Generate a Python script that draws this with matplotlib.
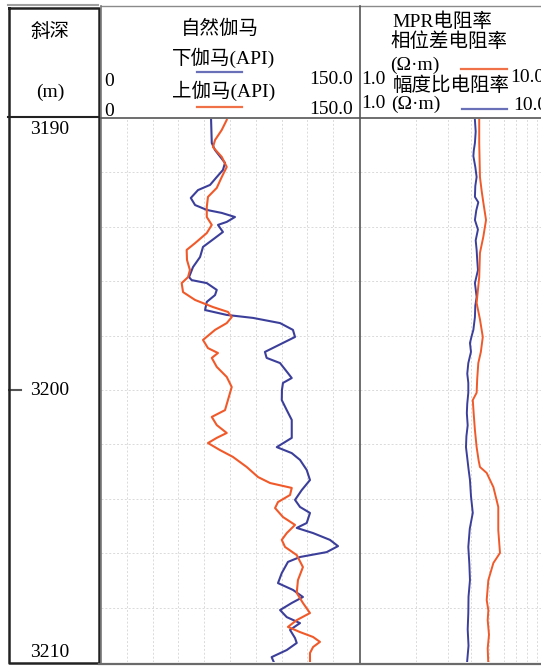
import matplotlib
matplotlib.use('Agg')
import matplotlib.pyplot as plt
import numpy as np

plt.rcParams['font.family'] = ['Liberation Serif', 'Noto Sans CJK SC', 'DejaVu Sans']

# depth range and labels
depth_top, depth_bot = 3190.0, 3210.0
depth_labels = [3190, 3200, 3210]

# 下伽马 (API) - blue
gr_low_depth = [3190.07, 3190.92, 3191.18, 3191.65, 3191.91, 3192.17, 3192.46, 3192.65, 3192.94,
                3193.20, 3193.38, 3193.49, 3193.64, 3193.82, 3193.93, 3194.19, 3194.41, 3194.74,
                3195.11, 3195.48, 3195.85, 3195.96, 3196.07, 3196.32, 3196.51, 3196.76, 3197.06,
                3197.24, 3197.35, 3197.54, 3197.79, 3198.05, 3198.27, 3198.60, 3198.82, 3199.01,
                3199.38, 3199.56, 3199.74, 3200.00, 3200.37, 3200.74, 3201.10, 3201.47, 3201.76,
                3202.10, 3202.32, 3202.57, 3202.94, 3203.31, 3203.68, 3204.04, 3204.30, 3204.52,
                3204.89, 3205.07, 3205.26, 3205.51, 3205.74, 3205.96, 3206.14, 3206.32, 3206.73,
                3207.10, 3207.35, 3207.61, 3207.83, 3208.09, 3208.35, 3208.57, 3208.82, 3209.12,
                3209.30, 3209.56, 3209.82, 3210.11]
gr_low = [64.0, 64.4, 66.3, 72.1, 70.9, 67.3, 63.4, 56.4, 52.2,
          54.7, 61.5, 70.2, 77.9, 73.1, 68.0, 70.9, 66.3, 59.3,
          57.6, 53.5, 51.2, 52.7, 61.5, 67.3, 66.3, 61.5, 60.5,
          73.1, 88.4, 104.1, 111.6, 112.8, 105.8, 95.3, 96.3, 104.1,
          108.7, 110.9, 105.8, 105.2, 105.1, 108.0, 110.9, 110.9, 110.9,
          102.2, 110.9, 115.7, 119.6, 121.5, 116.7, 112.8, 115.7, 121.5,
          119.6, 113.8, 123.3, 133.1, 137.8, 131.2, 115.7, 108.7, 105.1,
          102.9, 111.6, 117.4, 110.9, 104.1, 108.0, 115.7, 109.9, 112.8,
          113.8, 108.0, 99.2, 101.2]

# 上伽马 (API) - orange
gr_up_depth = [3190.07, 3190.44, 3190.81, 3191.07, 3191.43, 3191.80, 3192.17, 3192.57, 3192.90,
               3193.27, 3193.64, 3193.93, 3194.23, 3194.60, 3194.85, 3195.22, 3195.59, 3195.85,
               3196.07, 3196.40, 3196.69, 3196.95, 3197.13, 3197.32, 3197.54, 3197.79, 3198.16,
               3198.46, 3198.64, 3198.82, 3199.15, 3199.52, 3199.89, 3200.37, 3200.74, 3200.99,
               3201.29, 3201.58, 3201.76, 3201.95, 3202.21, 3202.46, 3202.83, 3203.20, 3203.42,
               3203.60, 3203.86, 3204.12, 3204.34, 3204.67, 3204.96, 3205.26, 3205.51, 3205.77,
               3206.07, 3206.51, 3206.99, 3207.46, 3207.83, 3208.20, 3208.46, 3208.71, 3208.90,
               3209.08, 3209.26, 3209.45, 3209.67, 3210.11]
gr_up = [73.1, 70.2, 66.3, 65.1, 70.2, 73.1, 70.2, 67.3, 62.2,
         61.5, 61.5, 64.4, 61.5, 54.7, 49.8, 50.0, 51.7, 50.6,
         46.9, 47.7, 54.7, 65.1, 73.8, 76.0, 73.1, 66.3, 59.3,
         62.2, 68.0, 64.4, 67.3, 73.1, 76.0, 73.8, 72.1, 64.4,
         67.3, 73.1, 67.3, 62.2, 69.2, 76.7, 84.7, 91.3, 98.3,
         110.9, 109.9, 102.9, 101.2, 105.8, 112.8, 108.0, 105.1, 107.0,
         113.8, 117.4, 114.5, 113.8, 117.4, 121.5, 113.8, 108.7, 115.7,
         123.3, 127.3, 123.3, 121.5, 121.5]

# 幅度比电阻率 (ohm.m) - blue
res_amp_depth = [3190.07, 3190.5, 3190.92, 3191.2, 3191.4, 3191.8, 3192.17, 3192.5, 3192.9, 3193.1,
                 3193.4, 3193.75, 3194.1, 3194.5, 3194.85, 3195.2, 3195.59, 3196.07, 3196.58, 3196.9,
                 3197.32, 3197.79, 3198.0, 3198.27, 3198.6, 3199.01, 3199.4, 3199.74, 3200.1, 3200.5,
                 3200.85, 3201.3, 3201.7, 3202.1, 3202.5, 3202.9, 3203.31, 3203.9, 3204.52, 3205.1,
                 3205.77, 3206.4, 3206.99, 3207.6, 3208.2, 3208.8, 3209.4, 3210.11]
res_amp = [4.18, 4.22, 4.18, 4.12, 4.10, 4.20, 4.27, 4.20, 4.18, 4.36,
           4.25, 4.18, 4.34, 4.22, 4.27, 4.30, 4.34, 4.18, 4.27, 4.20,
           4.18, 4.10, 4.02, 3.93, 3.98, 3.85, 3.80, 3.85, 3.85, 3.80,
           3.78, 3.82, 3.76, 3.74, 3.80, 3.86, 3.93, 3.98, 4.07, 3.92,
           3.85, 3.90, 3.93, 3.86, 3.85, 3.82, 3.86, 3.78]

# 相位差电阻率 (ohm.m) - orange
res_ph_depth = [3190.07, 3190.92, 3192.17, 3192.7, 3193.1, 3193.75, 3194.37, 3194.96, 3195.85,
                3196.80, 3197.4, 3198.05, 3198.6, 3199.01, 3199.6, 3200.1, 3200.37, 3200.9, 3201.47,
                3202.10, 3202.6, 3202.83, 3203.05, 3203.57, 3204.3, 3205.15, 3205.99, 3206.36,
                3206.99, 3207.72, 3208.1, 3208.46, 3209.0, 3209.5, 3210.11]
res_ph = [4.41, 4.41, 4.45, 4.55, 4.64, 4.80, 4.64, 4.45, 4.41,
          4.27, 4.45, 4.61, 4.50, 4.36, 4.30, 4.27, 4.07, 4.12, 4.18,
          4.27, 4.38, 4.45, 4.84, 5.26, 5.59, 5.59, 5.71, 5.26,
          4.94, 4.84, 4.94, 4.90, 4.98, 4.90, 4.94]

blue = '#3c3f9a'
orange = '#f05a2a'
grid_kw = dict(color='#dadada', lw=0.7, ls=(0, (2, 2)))

W, H = 541, 667
fig = plt.figure(figsize=(W / 100, H / 100), dpi=100)
fig.patch.set_facecolor('white')


def fpos(x0, y0, x1, y1):
    return [x0 / W, 1 - y1 / H, (x1 - x0) / W, (y1 - y0) / H]


yticks = np.arange(depth_top, depth_bot + 0.1, 2)

# depth track
axd = fig.add_axes(fpos(8, 118, 99, 662))
axd.set_ylim(depth_bot, depth_top)
axd.set_xlim(0, 1)
axd.axis('off')
offsets = {'top': 0.12, 'center': 0.0, 'bottom': -0.05}
for d, va in zip(depth_labels, ['top', 'center', 'bottom']):
    axd.text(0.46, d + offsets[va], str(d), ha='center', va=va, fontsize=14)
axd.plot([0.0, 0.14], [3200, 3200], color='#555555', lw=1.5)

# gamma track
axg = fig.add_axes(fpos(101, 118, 359, 662))
axg.set_xlim(0, 150)
axg.set_ylim(depth_bot, depth_top)
for x in np.arange(15, 150, 15):
    axg.axvline(x, **grid_kw)
for y in yticks[1:-1]:
    axg.axhline(y, **grid_kw)
axg.plot(gr_low, gr_low_depth, color=blue, lw=1.5)
axg.plot(gr_up, gr_up_depth, color=orange, lw=1.5)
axg.set_xticks([])
axg.set_yticks([])
for s in axg.spines.values():
    s.set_visible(False)

# resistivity track (log scale, extends past right edge)
axr = fig.add_axes(fpos(360, 118, 545, 662))
axr.set_xscale('log')
axr.set_xlim(1, 10)
axr.set_ylim(depth_bot, depth_top)
for x in range(2, 10):
    axr.axvline(x, **grid_kw)
for y in yticks[1:-1]:
    axr.axhline(y, **grid_kw)
axr.plot(res_amp, res_amp_depth, color=blue, lw=1.4)
axr.plot(res_ph, res_ph_depth, color=orange, lw=1.4)
axr.set_xticks([])
axr.set_yticks([])
axr.minorticks_off()
for s in axr.spines.values():
    s.set_visible(False)

# overlay for frames and headers (pixel coordinates)
ov = fig.add_axes([0, 0, 1, 1], zorder=5)
ov.set_xlim(0, W)
ov.set_ylim(H, 0)
ov.axis('off')
ov.patch.set_alpha(0)

ov.plot([8, 98], [5, 5], color='#a0a0a0', lw=1.5)
ov.plot([8.5, 8.5, 98.5, 98.5, 8.5], [8, 663, 663, 8, 8], color='#222222', lw=1.8)
ov.plot([8, 99], [117, 117], color='#222222', lw=1.5)
ov.plot([101, W], [6, 6], color='#8a8a8a', lw=1.0)
ov.plot([101, 101], [6, 664], color='#777777', lw=1.2)
ov.plot([101, W], [117.5, 117.5], color='#555555', lw=1.2)
ov.plot([359.5, 359.5], [6, 664], color='#555555', lw=1.2)
ov.plot([99, W], [664, 664], color='#6a6a6a', lw=1.6)

fs = 14
ov.text(50, 32, '斜深', ha='center', va='center', fontsize=fs)
ov.text(50, 92, '(m)', ha='center', va='center', fontsize=fs)

ov.text(220, 29, '自然伽马', ha='center', va='center', fontsize=fs)
ov.text(224, 58, '下伽马(API)', ha='center', va='center', fontsize=fs)
ov.plot([197, 242], [72, 72], color='#6a70b8', lw=1.6)
ov.text(104, 81, '0', ha='left', va='center', fontsize=fs)
ov.text(353, 79, '150.0', ha='right', va='center', fontsize=fs)
ov.text(224, 91, '上伽马(API)', ha='center', va='center', fontsize=fs)
ov.plot([197, 242], [107, 107], color='#f07048', lw=1.6)
ov.text(104, 111, '0', ha='left', va='center', fontsize=fs)
ov.text(353, 110, '150.0', ha='right', va='center', fontsize=fs)

ov.text(392, 22, 'MPR电阻率', ha='left', va='center', fontsize=fs)
ov.text(390, 42, '相位差电阻率', ha='left', va='center', fontsize=fs)
ov.text(390, 65, '(Ω·m)', ha='left', va='center', fontsize=fs)
ov.plot([461, 507], [69, 69], color='#f07048', lw=1.6)
ov.text(361, 79, '1.0', ha='left', va='center', fontsize=fs)
ov.text(393, 86, '幅度比电阻率', ha='left', va='center', fontsize=fs)
ov.text(510, 77, '10.0', ha='left', va='center', fontsize=fs)
ov.text(361, 104, '1.0', ha='left', va='center', fontsize=fs)
ov.text(391, 104, '(Ω·m)', ha='left', va='center', fontsize=fs)
ov.plot([462, 507], [109, 109], color='#6a70b8', lw=1.6)
ov.text(513, 106, '10.0', ha='left', va='center', fontsize=fs)

plt.savefig('out.png', dpi=100, facecolor='white')
plt.close()
